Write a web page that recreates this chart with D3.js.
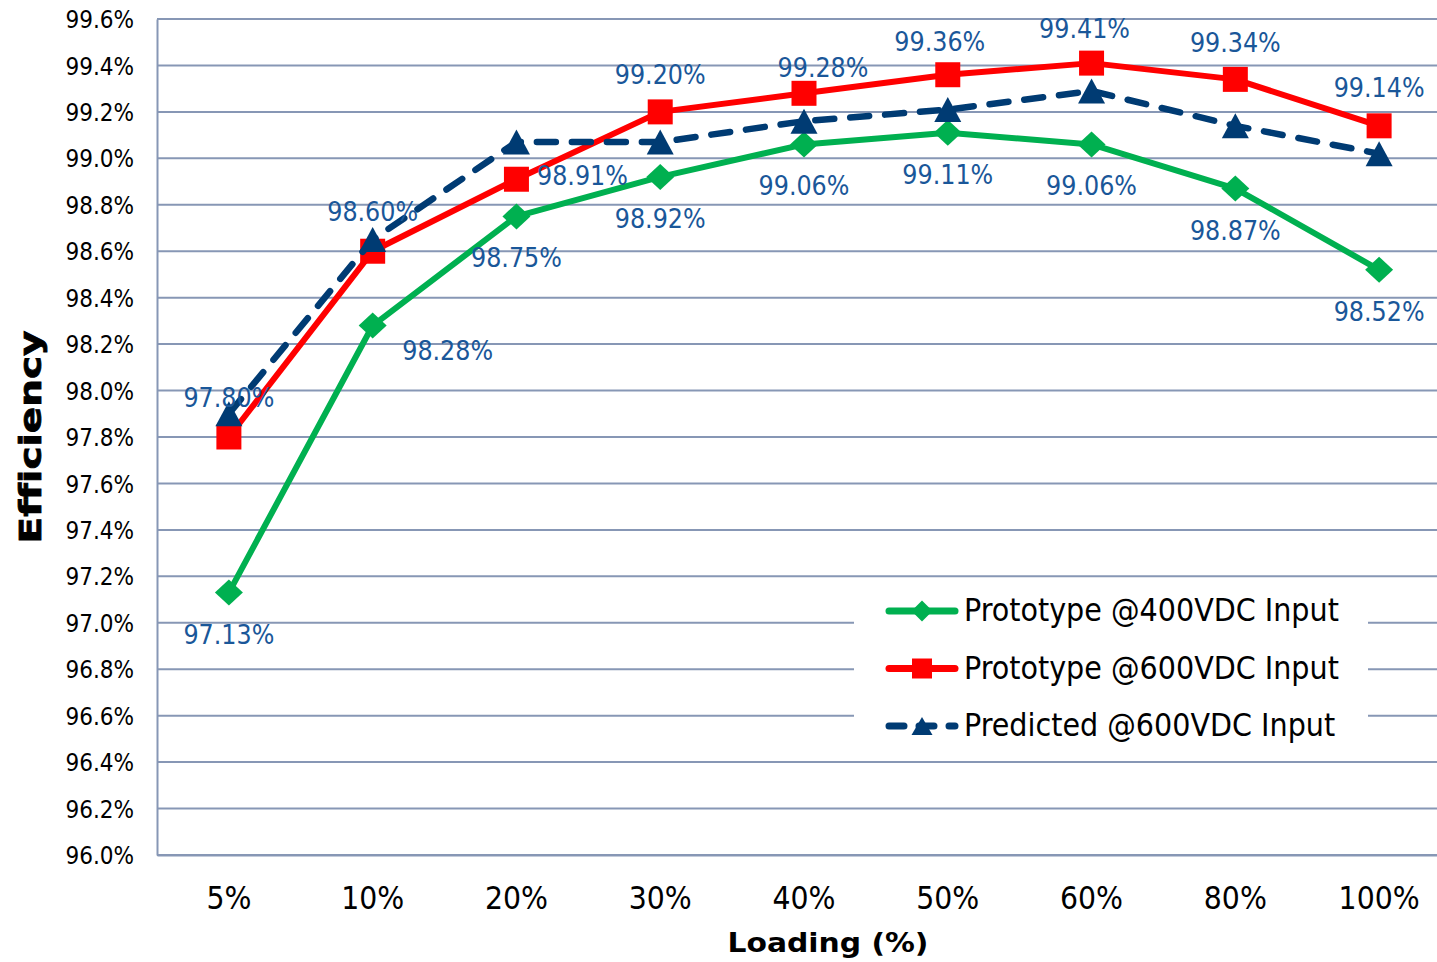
<!DOCTYPE html>
<html>
<head>
<meta charset="utf-8">
<script src="https://cdn.jsdelivr.net/npm/d3@7"></script>
<style>
  html, body { margin: 0; padding: 0; background: #ffffff; }
  svg { display: block; }
  text { font-family: "DejaVu Sans Condensed", "DejaVu Sans", sans-serif; font-stretch: condensed; font-variant-ligatures: none; }
</style>
</head>
<body>
<svg id="chart" width="1437" height="962"></svg>
<script>
// Load levels on the category axis
const loadings = ["5%", "10%", "20%", "30%", "40%", "50%", "60%", "80%", "100%"];

// Measured efficiency (%)
const proto400 = [97.13, 98.28, 98.75, 98.92, 99.06, 99.11, 99.06, 98.87, 98.52];
const proto600 = [97.80, 98.60, 98.91, 99.20, 99.28, 99.36, 99.41, 99.34, 99.14];
// Predicted efficiency (%)
const predicted600 = [97.90, 98.65, 99.07, 99.07, 99.16, 99.21, 99.29, 99.14, 99.02];

// Value axis ticks
const yTicks = [96.0, 96.2, 96.4, 96.6, 96.8, 97.0, 97.2, 97.4, 97.6, 97.8,
                98.0, 98.2, 98.4, 98.6, 98.8, 99.0, 99.2, 99.4, 99.6];

const seriesNames = ["Prototype @400VDC Input", "Prototype @600VDC Input", "Predicted @600VDC Input"];

// Data-label offsets from each point (dx, baseline dy), in px
const labelShift400 = [[0, 51], [75, 34], [0, 51], [0, 51], [0, 51], [0, 51], [0, 51], [0, 51], [0, 51]];
const labelShift600 = [[0, -30], [0, -30], [66, 6], [0, -28], [19, -16], [-8, -24], [-7, -25], [0, -27], [0, -29]];

const GREEN = "#00B050", RED = "#FF0000", NAVY = "#003B73", LABEL = "#1A5799", GRID = "#8797B5";

const svg = d3.select("#chart");
// The plot area runs a little past the right edge of the canvas
const plotL = 157, plotR = 1451, plotT = 19, plotB = 855, visibleR = 1437;

const x = d3.scaleBand().domain(loadings).range([plotL, plotR]).padding(0);
const y = d3.scaleLinear().domain([96, 99.6]).range([plotB, plotT]);
const cx = d => x(d) + x.bandwidth() / 2;

// Horizontal gridlines
svg.append("g")
  .selectAll("line")
  .data(yTicks)
  .join("line")
  .attr("x1", plotL).attr("x2", visibleR)
  .attr("y1", d => y(d)).attr("y2", d => y(d))
  .attr("stroke", GRID).attr("stroke-width", 2);

// Y axis
const yAxis = svg.append("g")
  .attr("transform", `translate(${plotL},0)`)
  .call(d3.axisLeft(y).tickValues(yTicks).tickSize(0).tickPadding(23).tickFormat(d => d.toFixed(1) + "%"));
yAxis.select(".domain").attr("stroke", GRID).attr("stroke-width", 2);
yAxis.selectAll("text").attr("font-size", 24).attr("fill", "#000").attr("dy", "0.36em");

// X axis
const xAxis = svg.append("g")
  .attr("transform", `translate(0,${plotB})`)
  .call(d3.axisBottom(x).tickSize(0).tickPadding(0));
xAxis.select(".domain").attr("stroke", GRID).attr("stroke-width", 2);
xAxis.selectAll("text").attr("font-size", 31.5).attr("fill", "#000").attr("dy", 0).attr("y", 54);

// Axis titles
svg.append("text")
  .attr("x", 828).attr("y", 952)
  .attr("text-anchor", "middle")
  .attr("font-size", 27).attr("font-weight", "bold")
  .attr("textLength", 201).attr("lengthAdjust", "spacingAndGlyphs")
  .text("Loading (%)");

svg.append("text")
  .attr("transform", "translate(41,437) rotate(-90)")
  .attr("text-anchor", "middle")
  .attr("font-size", 31).attr("font-weight", "bold")
  .attr("textLength", 213).attr("lengthAdjust", "spacingAndGlyphs")
  .style("font-family", "'DejaVu Sans', sans-serif").style("font-stretch", "normal")
  .attr("stroke", "#000").attr("stroke-width", 0.8)
  .text("Efficiency");

// Marker shapes
const diamondPath = (w, h) => `M0,${-h / 2}L${w / 2},0L0,${h / 2}L${-w / 2},0Z`;
const squarePath = s => `M${-s / 2},${-s / 2}h${s}v${s}h${-s}Z`;
const trianglePath = (w, h) => `M0,${-h / 2}L${w / 2},${h / 2}L${-w / 2},${h / 2}Z`;

const line = d3.line().x((d, i) => cx(loadings[i])).y(d => y(d));

function drawSeries(values, color, width, dash, markerPath) {
  const g = svg.append("g");
  g.append("path")
    .attr("d", line(values))
    .attr("fill", "none")
    .attr("stroke", color)
    .attr("stroke-width", width)
    .attr("stroke-linejoin", "round")
    .attr("stroke-linecap", "round")
    .attr("stroke-dasharray", dash);
  g.selectAll("path.marker")
    .data(values)
    .join("path")
    .attr("class", "marker")
    .attr("transform", (d, i) => `translate(${cx(loadings[i])},${y(d)})`)
    .attr("d", markerPath)
    .attr("fill", color);
}

drawSeries(proto400, GREEN, 6, null, diamondPath(28, 26));
drawSeries(proto600, RED, 6, null, squarePath(25));
drawSeries(predicted600, NAVY, 6.5, "19,16", trianglePath(27, 25));

// Data labels
function drawLabels(values, shifts) {
  svg.append("g")
    .selectAll("text")
    .data(values)
    .join("text")
    .attr("x", (d, i) => cx(loadings[i]) + shifts[i][0])
    .attr("y", (d, i) => y(d) + shifts[i][1])
    .attr("text-anchor", "middle")
    .attr("font-size", 26.5)
    .attr("fill", LABEL)
    .text(d => d.toFixed(2) + "%");
}
drawLabels(proto400, labelShift400);
drawLabels(proto600, labelShift600);

// Legend
const legend = svg.append("g");
legend.append("rect")
  .attr("x", 854).attr("y", 589).attr("width", 514).attr("height", 162)
  .attr("fill", "#fff");

const legendItems = [
  { name: seriesNames[0], color: GREEN, dash: null, marker: diamondPath(21, 21) },
  { name: seriesNames[1], color: RED, dash: null, marker: squarePath(20) },
  { name: seriesNames[2], color: NAVY, dash: "15,15", marker: trianglePath(21, 18) }
];
const rowY = d3.scalePoint().domain(d3.range(3)).range([611, 726]);
legendItems.forEach((it, i) => {
  const yy = rowY(i);
  legend.append("line")
    .attr("x1", 889).attr("x2", 955)
    .attr("y1", yy).attr("y2", yy)
    .attr("stroke", it.color).attr("stroke-width", 7)
    .attr("stroke-linecap", "round")
    .attr("stroke-dasharray", it.dash);
  legend.append("path")
    .attr("transform", `translate(922,${yy})`)
    .attr("d", it.marker)
    .attr("fill", it.color);
  legend.append("text")
    .attr("x", 964).attr("y", yy + 10)
    .attr("font-size", 31.8)
    .attr("fill", "#000")
    .text(it.name);
});
</script>
</body>
</html>
